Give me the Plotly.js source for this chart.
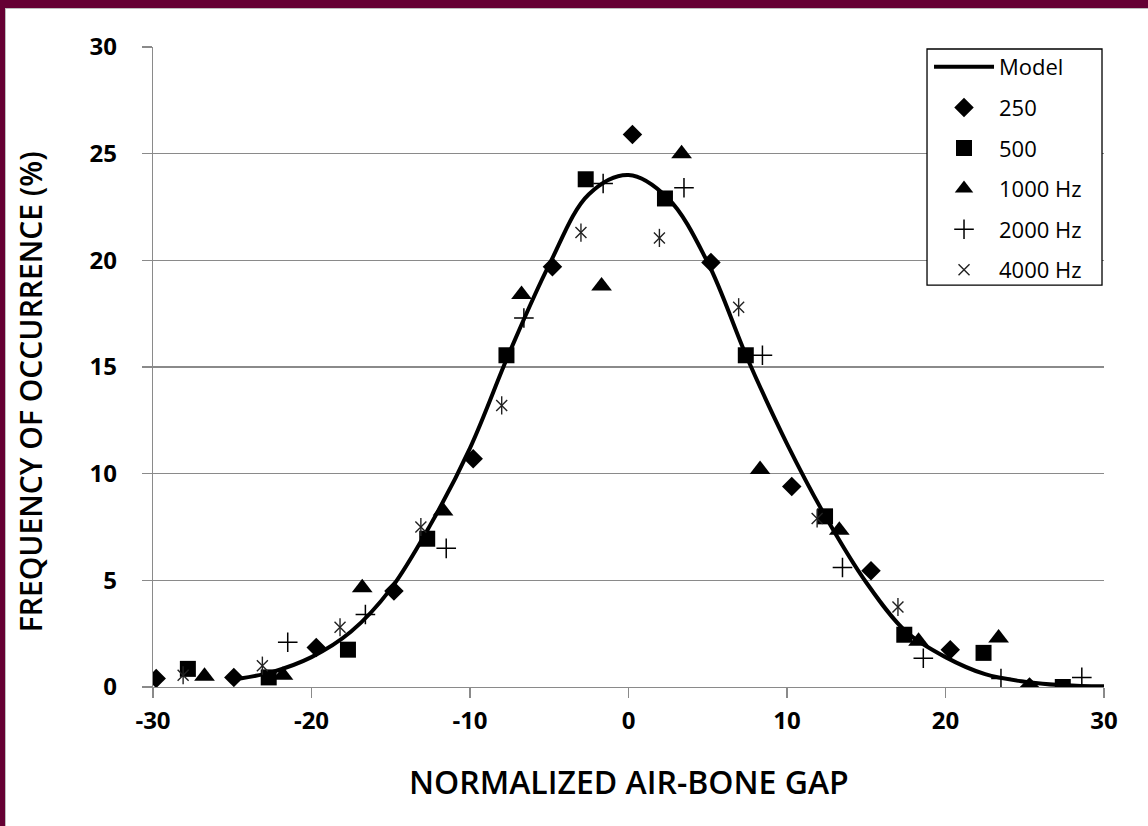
<!DOCTYPE html>
<html>
<head>
<meta charset="utf-8">
<script src="https://cdn.plot.ly/plotly-3.0.1.min.js"></script>
<style>
  html, body { margin: 0; padding: 0; background: #650033; width: 1148px; height: 826px; overflow: hidden; }
  #plot { position: absolute; left: 5px; top: 8px; width: 1143px; height: 818px; background: #ffffff;
          box-shadow: inset 1px 1px 0 #bdbdbd; }
</style>
</head>
<body>
<div id="plot"></div>
<script>
// Model curve
const modelX = [-24.5, -22.5, -20, -17.5, -15, -12.5, -10, -7.5, -5, -2.5, 0, 2.5, 5, 7.5, 10, 12.5, 15, 17.5, 20, 22.5, 25, 27.5, 30];
const modelY = [0.4, 0.7, 1.4, 2.6, 4.6, 7.6, 11.2, 15.7, 19.8, 23.1, 24.0, 22.9, 19.9, 15.4, 11.4, 7.9, 4.9, 2.6, 1.4, 0.6, 0.25, 0.08, 0.03];

// 250 Hz (diamonds)
const x250 = [-29.8, -24.9, -19.7, -14.8, -9.8, -4.8, 0.25, 5.2, 10.3, 15.3, 20.3, 25.3];
const y250 = [0.4, 0.45, 1.85, 4.5, 10.7, 19.7, 25.9, 19.9, 9.4, 5.45, 1.75, 0.0];

// 500 Hz (squares)
const x500 = [-27.8, -22.7, -17.7, -12.7, -7.7, -2.7, 2.3, 7.4, 12.4, 17.4, 22.4, 27.4];
const y500 = [0.85, 0.45, 1.75, 6.95, 15.55, 23.8, 22.9, 15.55, 8.0, 2.45, 1.6, 0.0];

// 1000 Hz (triangles)
const x1000 = [-26.75, -21.8, -16.8, -11.7, -6.75, -1.7, 3.35, 8.3, 13.3, 18.3, 23.35];
const y1000 = [0.5, 0.55, 4.65, 8.25, 18.4, 18.8, 25.0, 10.2, 7.35, 2.15, 2.3];

// 2000 Hz (plus)
const x2000 = [-21.5, -16.6, -11.5, -6.6, -1.6, 3.5, 8.45, 13.5, 18.6, 23.5, 28.6];
const y2000 = [2.1, 3.4, 6.5, 17.3, 23.6, 23.4, 15.55, 5.6, 1.35, 0.4, 0.45];

// 4000 Hz (asterisks)
const x4000 = [-28.1, -23.1, -18.2, -13.1, -8.0, -3.0, 1.95, 6.95, 11.9, 17.0];
const y4000 = [0.55, 1.0, 2.8, 7.5, 13.2, 21.3, 21.05, 17.8, 7.9, 3.75];

// Axis ticks
const xTicks = [-30, -20, -10, 0, 10, 20, 30];
const yTicks = [0, 5, 10, 15, 20, 25, 30];

const FONT = "'Open Sans', 'DejaVu Sans', sans-serif";

const traces = [
  { name: 'Model', x: modelX, y: modelY, type: 'scatter', mode: 'lines',
    line: { color: '#000', width: 4, shape: 'spline', smoothing: 1 }, legendgroup: 'g0' },
  { name: '250', x: x250, y: y250, type: 'scatter', mode: 'markers',
    marker: { symbol: 'diamond', size: 15, color: '#000' }, legendgroup: 'g1' },
  { name: '500', x: x500, y: y500, type: 'scatter', mode: 'markers',
    marker: { symbol: 'square', size: 16, color: '#000' }, legendgroup: 'g2' },
  { name: '1000 Hz', x: x1000, y: y1000, type: 'scatter', mode: 'markers',
    marker: { symbol: 'triangle-up', size: 18, color: '#000' }, legendgroup: 'g3' },
  { name: '2000 Hz', x: x2000, y: y2000, type: 'scatter', mode: 'markers',
    marker: { symbol: 'cross-thin-open', size: 14, color: '#000', line: { color: '#000', width: 1.5 } }, legendgroup: 'g4' },
  { name: '4000 Hz', x: x4000, y: y4000, type: 'scatter', mode: 'markers',
    marker: { symbol: 'x-thin-open', size: 11, color: '#222', line: { color: '#222', width: 1.4 } }, legendgroup: 'g5' },
  { name: '4000 Hz', x: x4000, y: y4000, type: 'scatter', mode: 'markers', showlegend: false,
    marker: { symbol: 'line-ns-open', size: 13, color: '#222', line: { color: '#222', width: 1.4 } }, legendgroup: 'g5' }
];

const layout = {
  width: 1143, height: 818,
  margin: { l: 148, r: 44, t: 39, b: 139 },
  paper_bgcolor: 'rgba(0,0,0,0)', plot_bgcolor: '#ffffff',
  font: { family: FONT, color: '#000' },
  showlegend: true,
  legend: {
    x: 0.816, y: 1.0016, xanchor: 'left', yanchor: 'top',
    bgcolor: 'rgba(0,0,0,0)', borderwidth: 0,
    font: { family: FONT, size: 22, color: '#000' },
    traceorder: 'grouped', tracegroupgap: 9, itemwidth: 60
  },
  shapes: [
    { type: 'rect', xref: 'paper', yref: 'paper', x0: 0.8139, x1: 0.9979, y0: 0.628, y1: 0.9969,
      line: { color: '#000', width: 1.3 }, fillcolor: '#ffffff', layer: 'above' }
  ],
  xaxis: {
    range: [-30, 30], tickvals: xTicks, ticktext: xTicks.map(String),
    showgrid: false, zeroline: false,
    showline: true, linecolor: '#8a8a8a', linewidth: 1.3,
    ticks: 'outside', ticklen: 10, tickcolor: '#8a8a8a', tickwidth: 1.3,
    ticklabelstandoff: 2,
    tickfont: { family: FONT, size: 24, color: '#000', weight: 'bold' }
  },
  yaxis: {
    range: [0, 30], tickvals: yTicks, ticktext: yTicks.map(String),
    showgrid: true, gridcolor: '#8a8a8a', gridwidth: 1.3, zeroline: false,
    showline: true, linecolor: '#8a8a8a', linewidth: 1.3,
    ticks: 'outside', ticklen: 10, tickcolor: '#8a8a8a', tickwidth: 1.3,
    ticklabelstandoff: 20,
    tickfont: { family: FONT, size: 24, color: '#000', weight: 'bold' }
  },
  annotations: [
    { text: 'NORMALIZED AIR-BONE GAP', xref: 'paper', yref: 'paper', x: 0.5, y: -0.148,
      xanchor: 'center', yanchor: 'middle', showarrow: false,
      font: { family: FONT, size: 32, color: '#000', weight: 600 } },
    { text: 'FREQUENCY OF OCCURRENCE (%)', xref: 'paper', yref: 'paper', x: -0.128, y: 0.461,
      xanchor: 'center', yanchor: 'middle', textangle: -90, showarrow: false,
      font: { family: FONT, size: 30, color: '#000', weight: 600 } }
  ]
};

Plotly.newPlot('plot', traces, layout, { displayModeBar: false, staticPlot: true });
</script>
</body>
</html>
